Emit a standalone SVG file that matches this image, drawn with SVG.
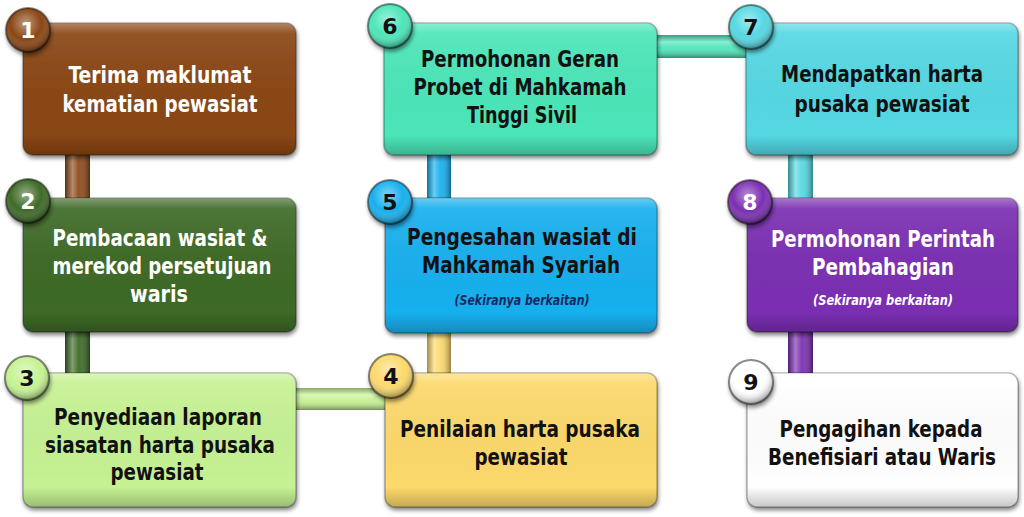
<svg xmlns="http://www.w3.org/2000/svg" width="1024" height="517" viewBox="0 0 1024 517">
<defs>
<style>
.t{font-family:"DejaVu Sans Condensed","DejaVu Sans",sans-serif;font-weight:bold;font-size:23px;text-anchor:middle}
.s{font-family:"DejaVu Sans Condensed","DejaVu Sans",sans-serif;font-weight:bold;font-style:italic;font-size:14px;text-anchor:middle}
.n{font-family:"DejaVu Sans","Liberation Sans",sans-serif;font-weight:900;font-size:22px;text-anchor:middle}
.w{fill:#ffffff}
.d{fill:#111111}
.box{stroke:rgba(0,0,0,0.28);stroke-width:1.5}
.ov{fill:url(#boxShine)}
.ball{stroke:rgba(0,0,0,0.45);stroke-width:2}
.bov{fill:url(#ballShine)}
</style>
<linearGradient id="boxShine" x1="0" y1="0" x2="0" y2="1">
<stop offset="0" stop-color="#fff" stop-opacity="0.35"/>
<stop offset="0.08" stop-color="#fff" stop-opacity="0.08"/>
<stop offset="0.85" stop-color="#000" stop-opacity="0"/>
<stop offset="1" stop-color="#000" stop-opacity="0.22"/>
</linearGradient>
<radialGradient id="ballShine" cx="0.45" cy="0.35" r="0.65">
<stop offset="0" stop-color="#fff" stop-opacity="0.45"/>
<stop offset="0.55" stop-color="#fff" stop-opacity="0"/>
<stop offset="1" stop-color="#000" stop-opacity="0.4"/>
</radialGradient>
<linearGradient id="barV" x1="0" y1="0" x2="1" y2="0">
<stop offset="0" stop-color="#000" stop-opacity="0.35"/>
<stop offset="0.3" stop-color="#fff" stop-opacity="0.35"/>
<stop offset="0.55" stop-color="#fff" stop-opacity="0.05"/>
<stop offset="1" stop-color="#000" stop-opacity="0.4"/>
</linearGradient>
<linearGradient id="barH" x1="0" y1="0" x2="0" y2="1">
<stop offset="0" stop-color="#000" stop-opacity="0.3"/>
<stop offset="0.3" stop-color="#fff" stop-opacity="0.35"/>
<stop offset="0.55" stop-color="#fff" stop-opacity="0.05"/>
<stop offset="1" stop-color="#000" stop-opacity="0.4"/>
</linearGradient>
<filter id="sh" x="-10%" y="-10%" width="125%" height="135%">
<feGaussianBlur in="SourceAlpha" stdDeviation="2"/>
<feOffset dx="1" dy="3" result="o"/>
<feComponentTransfer in="o" result="o2"><feFuncA type="linear" slope="0.5"/></feComponentTransfer>
<feMerge><feMergeNode in="o2"/><feMergeNode in="SourceGraphic"/></feMerge>
</filter>
</defs>
<rect width="1024" height="517" fill="#ffffff"/>

<g id="connectors">
<rect x="65" y="140" width="25" height="70" fill="#8c4a1a"/><rect x="65" y="140" width="25" height="70" fill="url(#barV)"/>
<rect x="65" y="320" width="25" height="65" fill="#3e6a27"/><rect x="65" y="320" width="25" height="65" fill="url(#barV)"/>
<rect x="285" y="388" width="110" height="22" fill="#c6f293"/><rect x="285" y="388" width="110" height="22" fill="url(#barH)"/>
<rect x="427" y="320" width="24" height="65" fill="#fcd96b"/><rect x="427" y="320" width="24" height="65" fill="url(#barV)"/>
<rect x="427" y="145" width="24" height="65" fill="#18b0ee"/><rect x="427" y="145" width="24" height="65" fill="url(#barV)"/>
<rect x="645" y="35" width="110" height="23" fill="#4ce6b9"/><rect x="645" y="35" width="110" height="23" fill="url(#barH)"/>
<rect x="788" y="145" width="25" height="65" fill="#55d8e3"/><rect x="788" y="145" width="25" height="65" fill="url(#barV)"/>
<rect x="788" y="320" width="25" height="65" fill="#7b2fb2"/><rect x="788" y="320" width="25" height="65" fill="url(#barV)"/>
</g>

<g id="node1">
<g filter="url(#sh)"><rect class="box" x="23" y="23" width="273" height="132" rx="10" fill="#8a4614"/><rect class="ov" x="23" y="23" width="273" height="132" rx="10"/></g>
<g filter="url(#sh)"><circle class="ball" cx="28" cy="30" r="22" fill="#8a4614"/><circle class="bov" cx="28" cy="30" r="22"/></g>
<text class="n w" x="28" y="38">1</text>
<text class="t w" x="160" y="83" textLength="183" lengthAdjust="spacingAndGlyphs">Terima maklumat</text>
<text class="t w" x="160" y="112" textLength="195" lengthAdjust="spacingAndGlyphs">kematian pewasiat</text>
</g>

<g id="node2">
<g filter="url(#sh)"><rect class="box" x="23" y="198" width="273" height="134" rx="10" fill="#3e6a27"/><rect class="ov" x="23" y="198" width="273" height="134" rx="10"/></g>
<g filter="url(#sh)"><circle class="ball" cx="28" cy="201" r="22" fill="#3e6a27"/><circle class="bov" cx="28" cy="201" r="22"/></g>
<text class="n w" x="28" y="209">2</text>
<text class="t w" x="160" y="246" textLength="215" lengthAdjust="spacingAndGlyphs">Pembacaan wasiat &amp;</text>
<text class="t w" x="162" y="274" textLength="219" lengthAdjust="spacingAndGlyphs">merekod persetujuan</text>
<text class="t w" x="159" y="302" textLength="58" lengthAdjust="spacingAndGlyphs">waris</text>
</g>

<g id="node3">
<g filter="url(#sh)"><rect class="box" x="23" y="373" width="273" height="134" rx="10" fill="#c6f293"/><rect class="ov" x="23" y="373" width="273" height="134" rx="10"/></g>
<g filter="url(#sh)"><circle class="ball" cx="27" cy="378" r="22" fill="#c6f293"/><circle class="bov" cx="27" cy="378" r="22"/></g>
<text class="n d" x="27" y="386">3</text>
<text class="t d" x="158" y="425" textLength="208" lengthAdjust="spacingAndGlyphs">Penyediaan laporan</text>
<text class="t d" x="160" y="453" textLength="230" lengthAdjust="spacingAndGlyphs">siasatan harta pusaka</text>
<text class="t d" x="157" y="480" textLength="93" lengthAdjust="spacingAndGlyphs">pewasiat</text>
</g>

<g id="node4">
<g filter="url(#sh)"><rect class="box" x="385" y="373" width="272" height="134" rx="10" fill="#fcd96b"/><rect class="ov" x="385" y="373" width="272" height="134" rx="10"/></g>
<g filter="url(#sh)"><circle class="ball" cx="391" cy="376" r="22" fill="#fcd96b"/><circle class="bov" cx="391" cy="376" r="22"/></g>
<text class="n d" x="391" y="384">4</text>
<text class="t d" x="520" y="437" textLength="240" lengthAdjust="spacingAndGlyphs">Penilaian harta pusaka</text>
<text class="t d" x="521" y="465" textLength="93" lengthAdjust="spacingAndGlyphs">pewasiat</text>
</g>

<g id="node5">
<g filter="url(#sh)"><rect class="box" x="385" y="198" width="272" height="135" rx="10" fill="#18b0ee"/><rect class="ov" x="385" y="198" width="272" height="135" rx="10"/></g>
<g filter="url(#sh)"><circle class="ball" cx="390" cy="202" r="22" fill="#18b0ee"/><circle class="bov" cx="390" cy="202" r="22"/></g>
<text class="n d" x="390" y="210">5</text>
<text class="t d" x="522" y="245" textLength="230" lengthAdjust="spacingAndGlyphs">Pengesahan wasiat di</text>
<text class="t d" x="521" y="273" textLength="198" lengthAdjust="spacingAndGlyphs">Mahkamah Syariah</text>
<text class="s" x="522" y="305" fill="#1b2a5e" textLength="135" lengthAdjust="spacingAndGlyphs">(Sekiranya berkaitan)</text>
</g>

<g id="node6">
<g filter="url(#sh)"><rect class="box" x="384" y="23" width="273" height="132" rx="10" fill="#4ce6b9"/><rect class="ov" x="384" y="23" width="273" height="132" rx="10"/></g>
<g filter="url(#sh)"><circle class="ball" cx="390" cy="26" r="22" fill="#4ce6b9"/><circle class="bov" cx="390" cy="26" r="22"/></g>
<text class="n d" x="390" y="34">6</text>
<text class="t d" x="520" y="67" textLength="198" lengthAdjust="spacingAndGlyphs">Permohonan Geran</text>
<text class="t d" x="520" y="95" textLength="213" lengthAdjust="spacingAndGlyphs">Probet di Mahkamah</text>
<text class="t d" x="522" y="123" textLength="110" lengthAdjust="spacingAndGlyphs">Tinggi Sivil</text>
</g>

<g id="node7">
<g filter="url(#sh)"><rect class="box" x="746" y="23" width="272" height="132" rx="10" fill="#55d8e3"/><rect class="ov" x="746" y="23" width="272" height="132" rx="10"/></g>
<g filter="url(#sh)"><circle class="ball" cx="751" cy="27" r="22" fill="#55d8e3"/><circle class="bov" cx="751" cy="27" r="22"/></g>
<text class="n d" x="751" y="35">7</text>
<text class="t d" x="882" y="82" textLength="202" lengthAdjust="spacingAndGlyphs">Mendapatkan harta</text>
<text class="t d" x="882" y="112" textLength="175" lengthAdjust="spacingAndGlyphs">pusaka pewasiat</text>
</g>

<g id="node8">
<g filter="url(#sh)"><rect class="box" x="747" y="198" width="271" height="134" rx="10" fill="#7b2fb2"/><rect class="ov" x="747" y="198" width="271" height="134" rx="10"/></g>
<g filter="url(#sh)"><circle class="ball" cx="750" cy="202" r="22" fill="#7b2fb2"/><circle class="bov" cx="750" cy="202" r="22"/></g>
<text class="n w" x="750" y="210">8</text>
<text class="t w" x="883" y="247" font-size="21" textLength="224" lengthAdjust="spacingAndGlyphs">Permohonan Perintah</text>
<text class="t w" x="883" y="275" textLength="142" lengthAdjust="spacingAndGlyphs">Pembahagian</text>
<text class="s w" x="883" y="305" textLength="140" lengthAdjust="spacingAndGlyphs">(Sekiranya berkaitan)</text>
</g>

<g id="node9">
<g filter="url(#sh)"><rect class="box" x="747" y="373" width="271" height="134" rx="10" fill="#ffffff"/><rect class="ov" x="747" y="373" width="271" height="134" rx="10"/></g>
<g filter="url(#sh)"><circle class="ball" cx="751" cy="382" r="22" fill="#ffffff"/><circle class="bov" cx="751" cy="382" r="22"/></g>
<text class="n d" x="751" y="390">9</text>
<text class="t d" x="881" y="437" textLength="203" lengthAdjust="spacingAndGlyphs">Pengagihan kepada</text>
<text class="t d" x="882" y="465" textLength="228" lengthAdjust="spacingAndGlyphs">Benefisiari atau Waris</text>
</g>
</svg>
